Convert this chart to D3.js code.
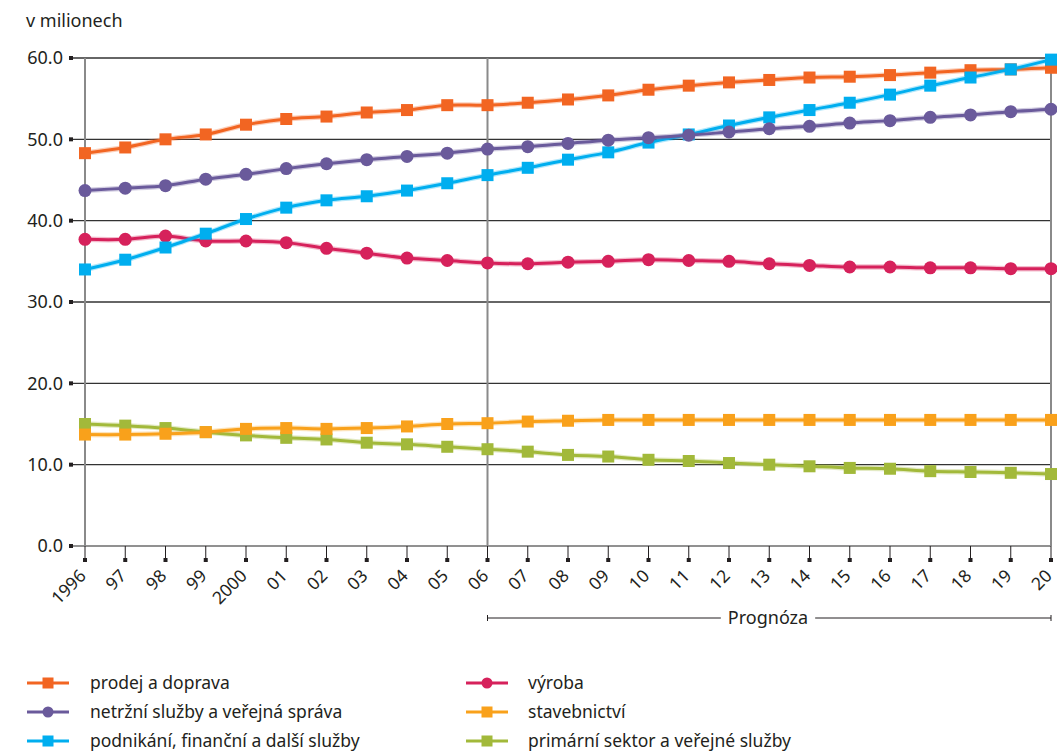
<!DOCTYPE html>
<html>
<head>
<meta charset="utf-8">
<script src="https://cdn.jsdelivr.net/npm/d3@7"></script>
<style>
html,body{margin:0;padding:0;background:#fff;}
svg{display:block;font-family:"Noto Sans","Open Sans",sans-serif;}
</style>
</head>
<body>
<svg id="chart" width="1057" height="751"></svg>
<script>
const years = d3.range(1996, 2021);
const yearLabels = ["1996","97","98","99","2000","01","02","03","04","05","06","07","08","09","10","11","12","13","14","15","16","17","18","19","20"];
const yTicks = [0,10,20,30,40,50,60];

const prodejDoprava = [48.3,49.0,50.0,50.6,51.8,52.5,52.8,53.3,53.6,54.2,54.2,54.5,54.9,55.4,56.1,56.6,57.0,57.3,57.6,57.7,57.9,58.2,58.5,58.6,58.8];
const netrzniSluzby = [43.7,44.0,44.3,45.1,45.7,46.4,47.0,47.5,47.9,48.3,48.8,49.1,49.5,49.9,50.2,50.5,50.9,51.3,51.6,52.0,52.3,52.7,53.0,53.4,53.7];
const podnikani = [34.0,35.2,36.7,38.4,40.2,41.6,42.5,43.0,43.7,44.6,45.6,46.5,47.5,48.4,49.6,50.6,51.7,52.7,53.6,54.5,55.5,56.6,57.6,58.6,59.8];
const vyroba = [37.7,37.7,38.1,37.5,37.5,37.3,36.6,36.0,35.4,35.1,34.8,34.7,34.9,35.0,35.2,35.1,35.0,34.7,34.5,34.3,34.3,34.2,34.2,34.1,34.1];
const stavebnictvi = [13.7,13.7,13.8,14.0,14.4,14.5,14.4,14.5,14.7,15.0,15.1,15.3,15.4,15.5,15.5,15.5,15.5,15.5,15.5,15.5,15.5,15.5,15.5,15.5,15.5];
const primarni = [15.0,14.8,14.5,14.0,13.6,13.3,13.1,12.7,12.5,12.2,11.9,11.6,11.2,11.0,10.6,10.45,10.2,10.0,9.8,9.6,9.5,9.2,9.1,9.0,8.85];

const seriesNames = ["prodej a doprava","netržní služby a veřejná správa","podnikání, finanční a další služby","výroba","stavebnictví","primární sektor a veřejné služby"];
const seriesData = [prodejDoprava, netrzniSluzby, podnikani, vyroba, stavebnictvi, primarni];
const seriesColors = ["#f26522","#6a5a9b","#00aeef","#d6215b","#f9a11b","#a2b93a"];
const seriesMarkers = ["square","circle","square","circle","square","square"];
const drawOrder = [5,4,3,0,2,1];

const textColor = "#231f20";
const svg = d3.select("#chart");
const x = d3.scaleLinear().domain([1996, 2020]).range([85, 1051]);
const y = d3.scaleLinear().domain([0, 60]).range([546, 58]);

// title
svg.append("text").attr("x", 26).attr("y", 27).attr("font-size", 18).attr("fill", textColor).text("v milionech");

// horizontal grid
const grid = svg.append("g");
yTicks.forEach(t => {
  grid.append("line").attr("x1", 72).attr("x2", 1051).attr("y1", y(t)).attr("y2", y(t))
    .attr("stroke", t === 0 ? "#6d6d6d" : "#333").attr("stroke-width", 1.3);
  grid.append("rect").attr("x", 69).attr("y", y(t) - 2).attr("width", 4).attr("height", 4).attr("fill", textColor);
  grid.append("text").attr("x", 63).attr("y", y(t)).attr("dy", "0.35em").attr("text-anchor", "end")
    .attr("font-size", 18).attr("fill", textColor).text(t.toFixed(1));
});

// vertical lines
[1996, 2006, 2020].forEach(v => {
  grid.append("line").attr("x1", x(v)).attr("x2", x(v)).attr("y1", 58).attr("y2", 546)
    .attr("stroke", "#8a8a8a").attr("stroke-width", 2);
});

// x ticks
const xt = svg.append("g");
years.forEach((yr, i) => {
  xt.append("line").attr("x1", x(yr)).attr("x2", x(yr)).attr("y1", 546).attr("y2", 560)
    .attr("stroke", textColor).attr("stroke-width", 1);
  xt.append("rect").attr("x", x(yr) - 2).attr("y", 558).attr("width", 4).attr("height", 4).attr("fill", textColor);
  xt.append("text").attr("transform", `translate(${x(yr) + 2},${577}) rotate(-45)`)
    .attr("text-anchor", "end").attr("font-size", 17.5).attr("fill", textColor).text(yearLabels[i]);
});

// Prognóza bracket
const py = 618;
const pmid = 768;
const pg = svg.append("g");
const ptxt = pg.append("text").attr("x", pmid).attr("y", py).attr("dy", "0.35em").attr("text-anchor", "middle")
  .attr("font-size", 18).attr("fill", textColor).text("Prognóza");
const bb = ptxt.node().getBBox();
pg.append("line").attr("x1", x(2006)).attr("x2", bb.x - 7).attr("y1", py).attr("y2", py).attr("stroke", textColor).attr("stroke-width", 1);
pg.append("line").attr("x1", bb.x + bb.width + 7).attr("x2", x(2020)).attr("y1", py).attr("y2", py).attr("stroke", textColor).attr("stroke-width", 1);
pg.append("line").attr("x1", x(2006)).attr("x2", x(2006)).attr("y1", py - 3).attr("y2", py + 3).attr("stroke", textColor);
pg.append("line").attr("x1", x(2020)).attr("x2", x(2020)).attr("y1", py - 3).attr("y2", py + 3).attr("stroke", textColor);

// series
const line = d3.line().x((d, i) => x(years[i])).y(d => y(d)).curve(d3.curveCatmullRom.alpha(0.5));
function marker(g, type, cx, cy, color, size) {
  if (type === "square") {
    g.append("rect").attr("x", cx - size / 2).attr("y", cy - size / 2).attr("width", size).attr("height", size).attr("fill", color);
  } else {
    g.append("circle").attr("cx", cx).attr("cy", cy).attr("r", size / 2).attr("fill", color);
  }
}
drawOrder.forEach(si => {
  const g = svg.append("g");
  const data = seriesData[si];
  g.append("path").attr("d", line(data)).attr("fill", "none").attr("stroke", seriesColors[si]).attr("stroke-opacity", 0.3).attr("stroke-width", 5.5);
  g.append("path").attr("d", line(data)).attr("fill", "none").attr("stroke", seriesColors[si]).attr("stroke-width", 3);
  data.forEach((v, i) => marker(g, seriesMarkers[si], x(years[i]), y(v), seriesColors[si], seriesMarkers[si] === "square" ? 12 : 13));
});

// legend
const legCols = [[27, 90], [466, 528]];
const legRows = [683, 712, 741];
seriesNames.forEach((name, i) => {
  const col = legCols[Math.floor(i / 3)];
  const ry = legRows[i % 3];
  const g = svg.append("g");
  g.append("line").attr("x1", col[0]).attr("x2", col[0] + 42).attr("y1", ry).attr("y2", ry).attr("stroke", seriesColors[i]).attr("stroke-width", 3);
  marker(g, seriesMarkers[i], col[0] + 21, ry, seriesColors[i], 11);
  g.append("text").attr("x", col[1]).attr("y", ry).attr("dy", "0.35em").attr("font-size", 17.5).attr("fill", textColor).text(name);
});
</script>
</body>
</html>
